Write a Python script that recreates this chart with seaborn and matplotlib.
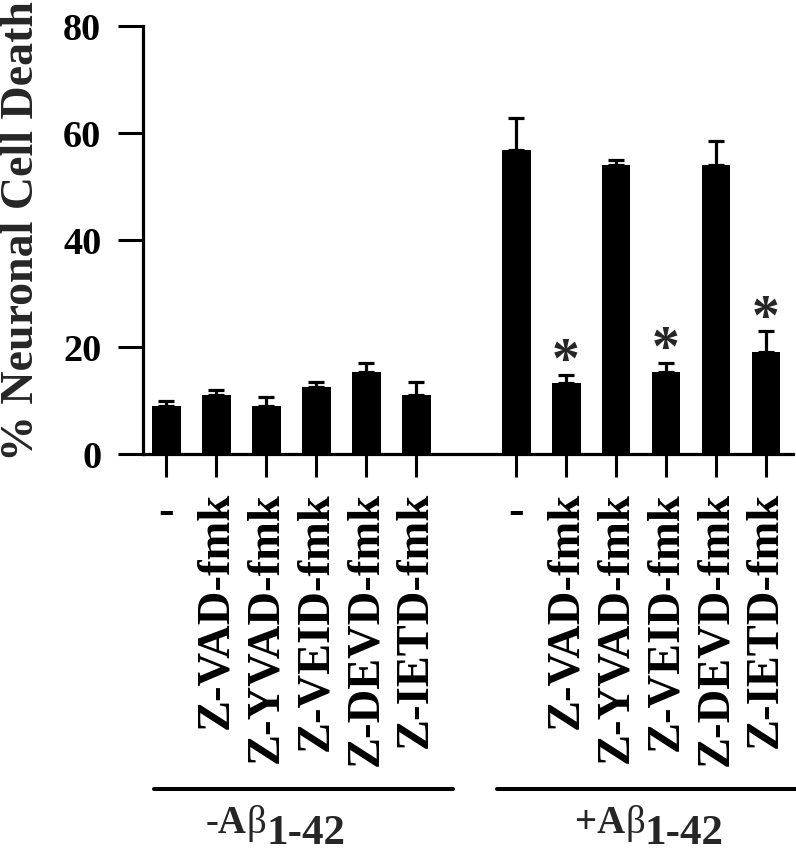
import numpy as np
import pandas as pd
import matplotlib
matplotlib.use("Agg")
import matplotlib.pyplot as plt
import seaborn as sns
from matplotlib.lines import Line2D

# ---------------- data ----------------
treatments = ["-", "Z-VAD-fmk", "Z-YVAD-fmk", "Z-VEID-fmk", "Z-DEVD-fmk", "Z-IETD-fmk"]
group_signs = ["-", "+"]
death_minus_abeta = [8.9, 11.0, 8.9, 12.6, 15.4, 11.0]
sem_minus_abeta = [1.1, 1.05, 1.7, 0.9, 1.7, 2.5]
death_plus_abeta = [56.9, 13.2, 54.0, 15.4, 54.0, 19.0]
sem_plus_abeta = [5.9, 1.65, 0.95, 1.7, 4.55, 3.9]
significant_plus = [False, True, False, True, False, True]
y_ticks = [0, 20, 40, 60, 80]

# ---------------- layout ----------------
positions = list(range(6)) + list(range(7, 13))
df = pd.DataFrame({
    "pos": positions,
    "label": treatments + treatments,
    "death": death_minus_abeta + death_plus_abeta,
    "sem": sem_minus_abeta + sem_plus_abeta,
    "sig": [False] * 6 + significant_plus,
})

sns.set_style("ticks")
plt.rcParams["font.family"] = ["Liberation Serif", "DejaVu Serif"]
plt.rcParams["font.weight"] = "bold"

W, H = 796, 853
fig = plt.figure(figsize=(W / 100, H / 100), dpi=100)
ax = fig.add_axes([143 / W, 1 - 455 / H, 650 / W, 428 / H])

sns.barplot(data=df, x="pos", y="death", native_scale=True, orient="x",
            width=0.58, color="black", saturation=1, errorbar=None,
            linewidth=0, ax=ax, zorder=2)

ax.errorbar(df["pos"], df["death"], yerr=[np.zeros(len(df)), df["sem"]],
            fmt="none", ecolor="black", elinewidth=2.3, capsize=5.8,
            capthick=2.3, zorder=1)

for p, m, e, s in zip(df["pos"], df["death"], df["sem"], df["sig"]):
    if s:
        ax.annotate("*", xy=(p, m + e), xytext=(0, -1), textcoords="offset points",
                    ha="center", va="baseline", fontsize=40, fontweight="bold")

ax.set_xlim(-0.46, 12.54)
ax.set_ylim(0, 80)
ax.set_yticks(y_ticks)
ax.set_yticklabels([str(v) for v in y_ticks], fontsize=27.5, fontweight="bold")
ax.set_xticks(positions)
ax.set_xticklabels(df["label"], rotation=90, fontsize=33.5, fontweight="bold")
for t in ax.get_xticklabels():
    if t.get_text() == "-":
        t.set_rotation(0)
ax.set_xlabel("")
ax.set_ylabel("")
ax.tick_params(axis="x", length=16.5, width=2.2, pad=10, colors="black")
ax.tick_params(axis="y", length=18, width=2.2, pad=12, colors="black")
sns.despine(ax=ax)
for sp in ("left", "bottom"):
    ax.spines[sp].set_linewidth(2.3)
    ax.spines[sp].set_color("black")

fig.text(22 / W, 1 - 231 / H, "% Neuronal Cell Death", rotation=90,
         ha="center", va="center", fontsize=33, fontweight="bold")

# group brackets and labels
for (x0, x1), sign, tx in zip([(154, 453), (497, 796)], group_signs, [206, 575]):
    fig.add_artist(Line2D([x0 / W, x1 / W], [1 - 790 / H] * 2, lw=2.9, color="black"))
    t1 = fig.text(tx / W, 1 - 833 / H, sign + "A", ha="left", va="baseline",
                  fontsize=28, fontweight="bold")
    t2 = ax.annotate("β", xy=(1, 0), xycoords=t1, xytext=(0, 0),
                     textcoords="offset points", ha="left", va="bottom",
                     fontsize=28, fontweight="normal", annotation_clip=False)
    ax.annotate("1-42", xy=(1, 0), xycoords=t2, xytext=(0, -8),
                textcoords="offset points", ha="left", va="bottom",
                fontsize=31, fontweight="bold", annotation_clip=False)

fig.savefig("out.png", dpi=100)
